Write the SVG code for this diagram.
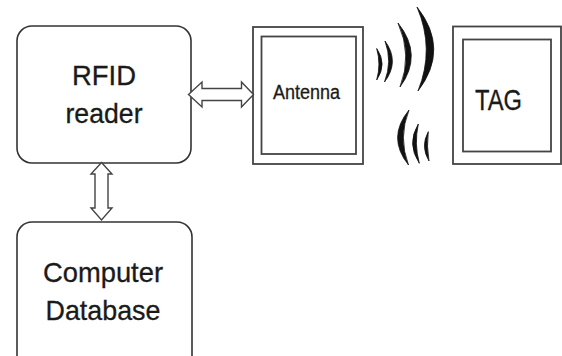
<svg xmlns="http://www.w3.org/2000/svg" width="562" height="356" viewBox="0 0 562 356">
<style>
.box{fill:#fff;stroke:#333;stroke-width:1.6}
.frame{fill:none;stroke:#444;stroke-width:1.8}
.arrow{fill:#fff;stroke:#444;stroke-width:1.4;stroke-linejoin:miter}
.wave{fill:#111;stroke:#111;stroke-width:0.8}
text{font-family:"Liberation Sans",Arial,sans-serif;fill:#1a1a1a;stroke:#1a1a1a;stroke-width:0.3;text-anchor:middle}
</style>
<rect width="562" height="356" fill="#fff"/>
<g id="rfid-reader">
<rect class="box" x="17" y="26" width="174" height="137" rx="15"/>
<text x="104" y="85" font-size="28" textLength="64" lengthAdjust="spacingAndGlyphs">RFID</text>
<text x="104" y="123" font-size="28" textLength="77" lengthAdjust="spacingAndGlyphs">reader</text>
</g>
<g id="computer-database">
<rect class="box" x="17" y="222" width="175" height="160" rx="15"/>
<text x="103" y="282" font-size="28" textLength="120" lengthAdjust="spacingAndGlyphs">Computer</text>
<text x="103" y="320" font-size="28" textLength="115" lengthAdjust="spacingAndGlyphs">Database</text>
</g>
<g id="antenna">
<rect class="frame" x="253" y="27" width="110" height="137"/>
<rect class="frame" x="261.5" y="36.5" width="94.5" height="117.5"/>
<text x="306.5" y="98.5" font-size="20" textLength="67" lengthAdjust="spacingAndGlyphs">Antenna</text>
</g>
<g id="tag">
<rect class="frame" x="453" y="26.5" width="108" height="137.5"/>
<rect class="frame" x="463" y="39.5" width="88" height="112"/>
<text x="498.5" y="109.5" font-size="30" textLength="47" lengthAdjust="spacingAndGlyphs">TAG</text>
</g>
<g id="connectors">
<polygon class="arrow" points="188.5,94.5 202,82 202,88.5 241.5,88.5 241.5,82 253.5,94.5 241.5,107 241.5,100.5 202,100.5 202,107"/>
<polygon class="arrow" points="101.5,162.5 112,174 108,174 108,208 112,208 101.5,220 91,208 95,208 95,174 91,174"/>
</g>
<g id="waves">
<path class="wave" d="M417,7 Q450,49 418,91 Q435,49 417,7 Z"/>
<path class="wave" d="M398,23 Q423.5,55 400,87 Q412.5,55 398,23 Z"/>
<path class="wave" d="M385,41 Q400,61.5 384.5,82 Q392.6,61.5 385,41 Z"/>
<path class="wave" d="M376.7,48.5 Q387.5,64 376.7,80 Q381.2,64 376.7,48.5 Z"/>
<path class="wave" d="M409,110 Q386.5,137.5 408.5,165 Q398,137.5 409,110 Z"/>
<path class="wave" d="M418.3,124 Q406.4,143.7 419.3,163.3 Q414,143.7 418.3,124 Z"/>
<path class="wave" d="M428.3,131.7 Q420.2,146.3 429,161 Q426.4,146.3 428.3,131.7 Z"/>
</g>
</svg>
